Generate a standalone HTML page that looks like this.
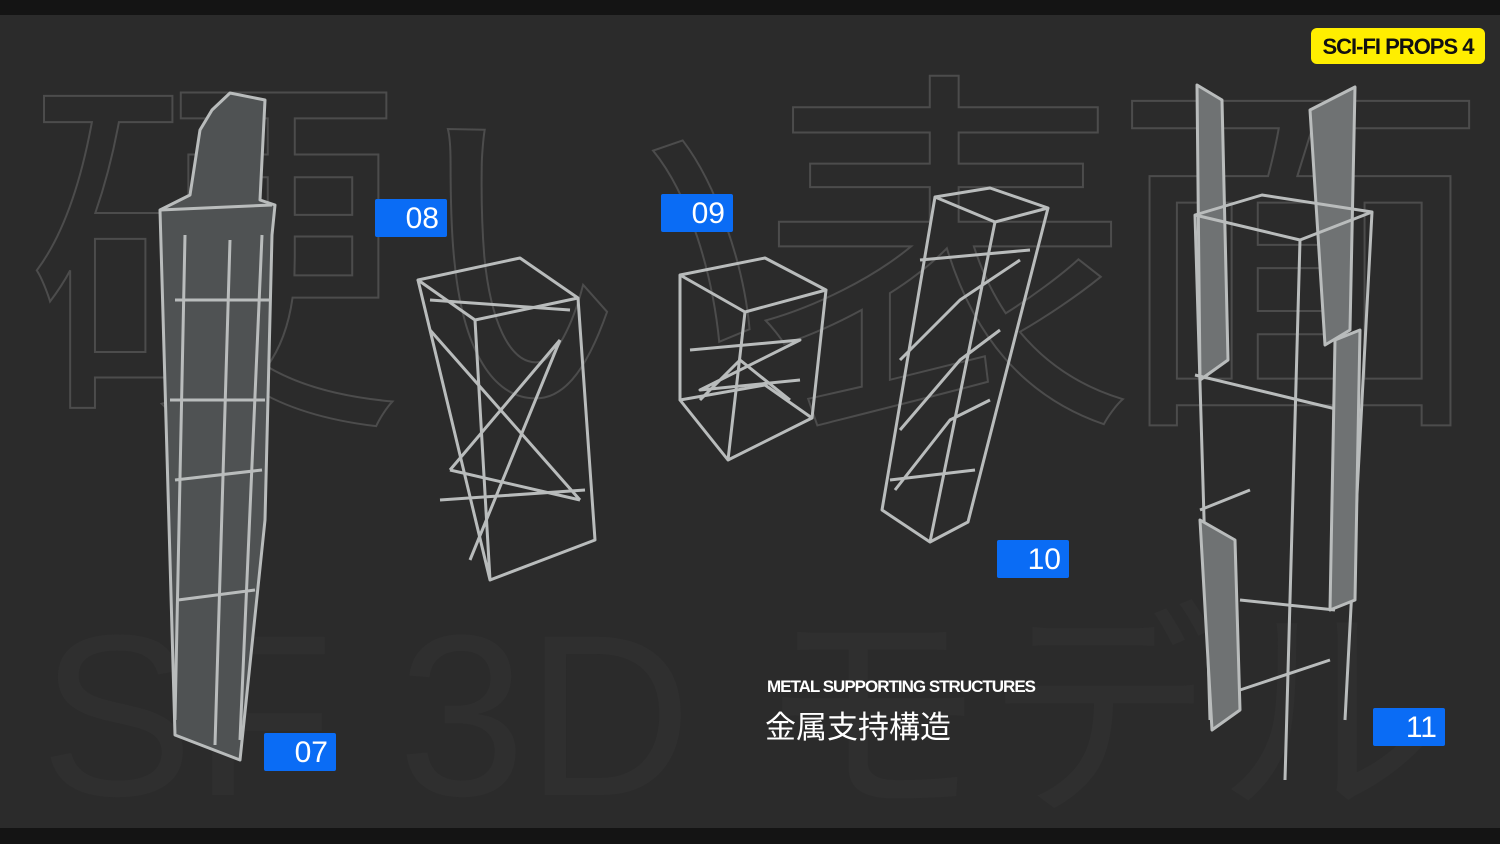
<!DOCTYPE html>
<html><head><meta charset="utf-8"><style>
body{margin:0;width:1500px;height:844px;overflow:hidden;background:#2b2b2b;font-family:"Liberation Sans","Noto Sans CJK JP",sans-serif}
.bar{position:absolute;left:0;width:1500px;background:#141414}
.lab{position:absolute;width:72px;height:38px;background:#0a6cf5;color:#fff;font-size:30px;line-height:40px;text-align:right;box-sizing:border-box;padding-right:8px;border-radius:2px}
</style></head><body>
<div class="bar" style="top:0;height:15px"></div>
<div class="bar" style="top:828px;height:16px"></div>
<svg width="1500" height="844" style="position:absolute;left:0;top:0">
<g font-family="Noto Sans CJK JP,sans-serif" font-size="380" fill="none" stroke="#4c4c4c" stroke-width="2">
<text x="25" y="395">硬</text><text x="400" y="395">い</text><text x="755" y="395">表</text><text x="1110" y="395">面</text>
</g>
<text x="40" y="795" font-family="Liberation Sans,Noto Sans CJK JP,sans-serif" font-size="230" fill="#2f2f2f">SF 3D モデル</text>
<g fill="none" stroke="#b9bcbc" stroke-width="3" stroke-linejoin="round">
<!-- 07 -->
<polygon points="212,110 230,93 265,100 260,200 275,205 272,235 265,520 240,760 175,735 160,210 190,195 200,130" fill="#4f5253"/>
<path d="M185,235 L175,720 M230,240 L215,745 M262,235 L240,740 M160,210 L272,205 M175,300 L270,300 M170,400 L265,400 M175,480 L262,470 M178,600 L255,590"/>
<!-- 08 -->
<polygon points="418,280 520,258 578,298 475,320"/>
<path d="M418,280 L490,580 L595,540 L578,298 M475,320 L490,580 M430,330 L580,500 M450,470 L560,340 M470,560 L560,340 M450,470 L580,500 M430,300 L570,310 M440,500 L585,490"/>
<!-- 09 -->
<polygon points="680,275 765,258 826,290 745,312"/>
<polygon points="680,400 765,385 812,418 728,460"/>
<path d="M680,275 L680,400 M745,312 L728,460 M826,290 L812,418 M690,350 L800,340 L700,390 L800,380 M700,400 L740,360 L790,400"/>
<!-- 10 -->
<polygon points="935,197 990,188 1048,208 995,222"/>
<path d="M935,197 L882,510 L930,542 L995,222 M1048,208 L968,522 L930,542 M900,360 L960,300 L1020,260 M900,430 L960,360 L1000,330 M895,490 L950,420 L990,400 M920,260 L1030,250 M890,480 L975,470"/>
<!-- 11 -->
<polygon points="1197,85 1222,100 1228,360 1200,380" fill="#6f7273"/>
<polygon points="1310,110 1355,87 1350,330 1325,345" fill="#6f7273"/>
<polygon points="1195,215 1262,195 1372,212 1300,240"/>
<path d="M1195,215 L1210,720 M1300,240 L1285,780 M1372,212 L1345,720 M1195,375 L1340,410 M1200,510 L1250,490 M1240,600 L1335,610 M1240,690 L1330,660"/>
<polygon points="1200,520 1235,540 1240,710 1212,730" fill="#6f7273"/>
<polygon points="1335,340 1360,330 1355,600 1330,610" fill="#6f7273"/>
</g>
</svg>
<div class="lab" style="left:375px;top:199px">08</div>
<div class="lab" style="left:661px;top:194px">09</div>
<div class="lab" style="left:997px;top:540px">10</div>
<div class="lab" style="left:264px;top:733px">07</div>
<div class="lab" style="left:1373px;top:708px">11</div>
<div style="position:absolute;left:1311px;top:28px;width:174px;height:36px;background:#ffee00;border-radius:6px;color:#111;font-weight:bold;font-size:22px;line-height:37px;text-align:center;letter-spacing:-1px">SCI-FI PROPS 4</div>
<div style="position:absolute;left:767px;top:677px;color:#fff;font-weight:bold;font-size:17px;letter-spacing:-1px">METAL SUPPORTING STRUCTURES</div>
<div style="position:absolute;left:765px;top:702px;color:#fff;font-size:31px">金属支持構造</div>
</body></html>
